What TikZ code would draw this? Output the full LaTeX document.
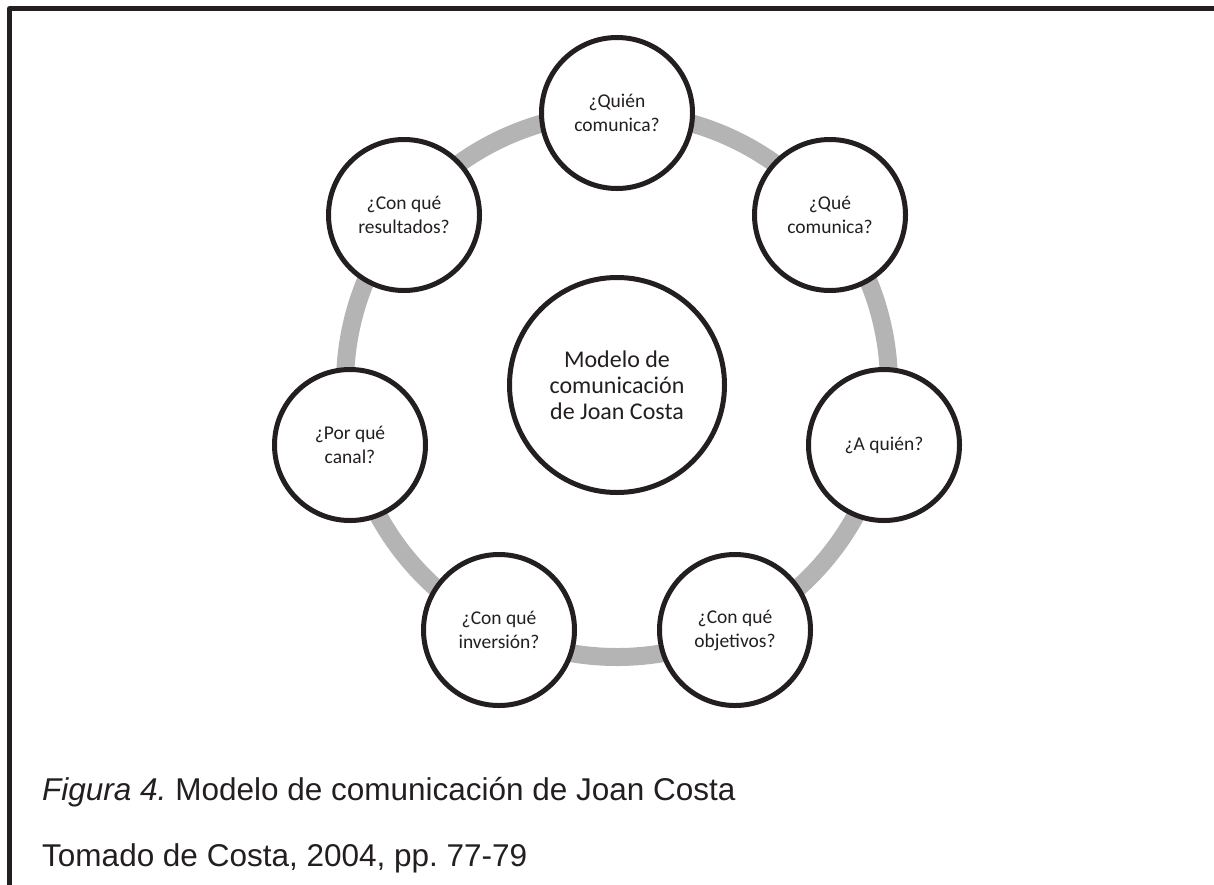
\documentclass[tikz,border=0pt]{standalone}
\usepackage{fontspec}
\setmainfont{Carlito}
\newfontfamily\capfont{Liberation Sans}
\definecolor{ink}{HTML}{231F20}
\definecolor{ringgray}{RGB}{180,180,180}
\frenchspacing
\begin{document}
\begin{tikzpicture}[x=1pt,y=-1pt,
  qnode/.style={circle,draw=ink,line width=5pt,fill=white,minimum size=151pt,inner sep=0pt,
    text=ink,align=center,font=\fontsize{19.5}{24}\selectfont},
  cnode/.style={circle,draw=ink,line width=5pt,fill=white,minimum size=215pt,inner sep=0pt,
    text=ink,align=center,font=\fontsize{24}{26}\selectfont},
  ring/.style={draw=ringgray,line width=18pt},
  frame/.style={draw=ink,line width=5pt,line join=round},
  captext/.style={anchor=base west,inner sep=0pt,text=ink,font=\capfont\fontsize{31.5}{36}\selectfont}]
\useasboundingbox (0,0) rectangle (1214,884);
\draw[frame] (9.5,900) -- (9.5,8.5) -- (1230,8.5);
\coordinate (o) at (617,385);
\draw[ring] (o) circle[radius=272];
\node[cnode] (center) at (o) {Modelo de\\comunicación\\de Joan Costa};
\path (o) ++(0,-272) node[qnode] (q0) {¿Quién\\comunica?};
\path (o) ++(213,-170) node[qnode] (q1) {¿Qué\\comunica?};
\path (o) ++(267,60) node[qnode] (q2) {¿A quién?};
\path (o) ++(118,245) node[qnode] (q3) {¿Con qué\\objetivos?};
\path (o) ++(-118,245) node[qnode] (q4) {¿Con qué\\inversión?};
\path (o) ++(-267,60) node[qnode] (q5) {¿Por qué\\canal?};
\path (o) ++(-213,-170) node[qnode] (q6) {¿Con qué\\resultados?};
\node[captext] (cap1) at (42,800) {\textit{Figura 4.} Modelo de comunicación de Joan Costa};
\node[captext] (cap2) at (42,866) {Tomado de Costa, 2004, pp. 77-79};
\end{tikzpicture}
\end{document}
